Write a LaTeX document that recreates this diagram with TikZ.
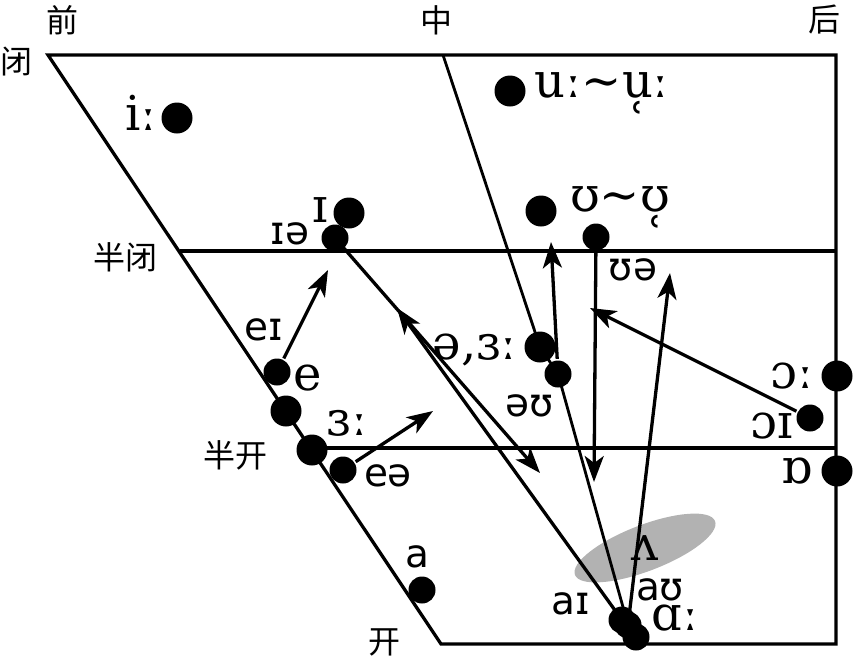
\documentclass[tikz,border=0pt]{standalone}
\usepackage{fontspec}
\usetikzlibrary{arrows.meta}
\newfontfamily\ipaserif{DejaVu Serif}
\newfontfamily\ipasans{DejaVu Sans}
\newfontfamily\cjk{Noto Sans CJK SC}

\begin{document}
\begin{tikzpicture}[x=1pt,y=-1pt,line width=3.3pt]
        \tikzstyle{point}=[coordinate]
        \tikzstyle{dot}=[circle,fill,inner sep=0pt,minimum size=31pt]
        \tikzstyle{smalldot}=[dot,minimum size=27pt]
        \tikzstyle{serif}=[inner sep=0pt,font=\ipaserif\fontsize{48}{48}\selectfont]
        \tikzstyle{sans}=[inner sep=0pt,font=\ipasans\fontsize{39}{39}\selectfont]
        \tikzstyle{side}=[inner sep=0pt,font=\cjk\fontsize{32}{32}\selectfont]
        \tikzstyle{glide}=[-{Stealth[length=26pt,width=19pt,inset=7pt]}]
        \useasboundingbox (0,0) rectangle (854,659);
        % frame of the chart
        \node[point] (tl)  at (48,55)   {};
        \node[point] (tm)  at (443,55)  {};
        \node[point] (tr)  at (836,55)  {};
        \node[point] (br)  at (836,644) {};
        \node[point] (bl)  at (441,644) {};
        \node[point] (hcl) at (180,251) {};
        \node[point] (hcr) at (836,251) {};
        \node[point] (hol) at (311,448) {};
        \node[point] (hor) at (836,448) {};
        \fill[gray!60,rotate around={21:(645,548)}] (645,548) ellipse [x radius=75, y radius=23];
        \draw (tl) -- (tr) -- (br) -- (bl) -- cycle;
        \draw (hcl) -- (hcr)   (hol) -- (hor);
        % vowels
        \node[dot]      (ii)  at (177,118) {};
        \node[dot]      (uu)  at (510,91)  {};
        \node[dot]      (ih)  at (349,213) {};
        \node[smalldot] (ia)  at (335,238) {};
        \node[dot]      (uh)  at (541,211) {};
        \node[smalldot] (ua)  at (596,237) {};
        \node[dot]      (sw)  at (540,347) {};
        \node[smalldot] (ou)  at (558,374) {};
        \node[smalldot] (ee)  at (277,372) {};
        \node[dot]      (eh)  at (286,411) {};
        \node[dot]      (er)  at (312,450) {};
        \node[smalldot] (ea)  at (343,470) {};
        \node[smalldot] (aa)  at (422,590) {};
        \node[smalldot] (ai)  at (622,620) {};
        \node[smalldot] (au)  at (628,625) {};
        \node[smalldot] (ah)  at (636,637) {};
        \node[dot]      (oo)  at (837,376) {};
        \node[smalldot] (oi)  at (810,418) {};
        \node[dot]      (ob)  at (837,471) {};
        \draw[line width=2.8pt] (tm) -- (sw.center) -- (ou.center) -- (au.center);
        % glide targets
        \node[point] (t1) at (328,270) {};
        \node[point] (t2) at (433,411) {};
        \node[point] (t3) at (540,473) {};
        \node[point] (t4) at (397,308) {};
        \node[point] (t5) at (551,242) {};
        \node[point] (t6) at (594,482) {};
        \node[point] (t7) at (670,273) {};
        \node[point] (t8) at (590,308) {};
        \draw[glide] (ee) -- (t1);
        \draw[glide] (ea) -- (t2);
        \draw[glide] (ia.center) -- (t3);
        \draw[glide] (ai.center) -- (t4);
        \draw[glide] (ou) -- (t5);
        \draw[glide] (ua.center) -- (t6);
        \draw[glide] (au.center) -- (t7);
        \draw[glide] (oi) -- (t8);
        % labels
        \node[side] (front) at (62,20)   {前};
        \node[side] (cent)  at (436,20)  {中};
        \node[side] (back)  at (824,19)  {后};
        \node[side] (close) at (16,62)   {闭};
        \node[side] (hclo)  at (125,257) {半闭};
        \node[side] (hope)  at (235,455) {半开};
        \node[side] (open)  at (384,642) {开};
        \node[serif] (lii) at (141,113) {iː};
        \node[serif] (luu) at (602,93)  {uː∼u̜ː};
        \node[serif] (lih) at (320,210) {ɪ};
        \node[sans]  (lia) at (290,234) {ɪə};
        \node[serif] (luh) at (620,207) {ʊ∼ʊ̜};
        \node[sans]  (lua) at (633,270) {ʊə};
        \node[serif] (lsw) at (475,350) {ə,ɜː};
        \node[sans]  (lou) at (530,406) {əʊ};
        \node[sans]  (lei) at (264,330) {eɪ};
        \node[serif] (lee) at (308,378) {e};
        \node[serif] (ler) at (347,423) {ɜː};
        \node[sans]  (lea) at (388,476) {eə};
        \node[sans]  (laa) at (417,557) {a};
        \node[serif] (lvv) at (645,548) {ʌ};
        \node[sans]  (lai) at (571,604) {aɪ};
        \node[sans]  (lau) at (660,590) {aʊ};
        \node[serif] (lah) at (675,618) {ɑː};
        \node[serif] (loo) at (792,376) {ɔː};
        \node[serif] (loi) at (772,426) {ɔɪ};
        \node[serif] (lob) at (797,471) {ɒ};
    \end{tikzpicture}
\end{document}
